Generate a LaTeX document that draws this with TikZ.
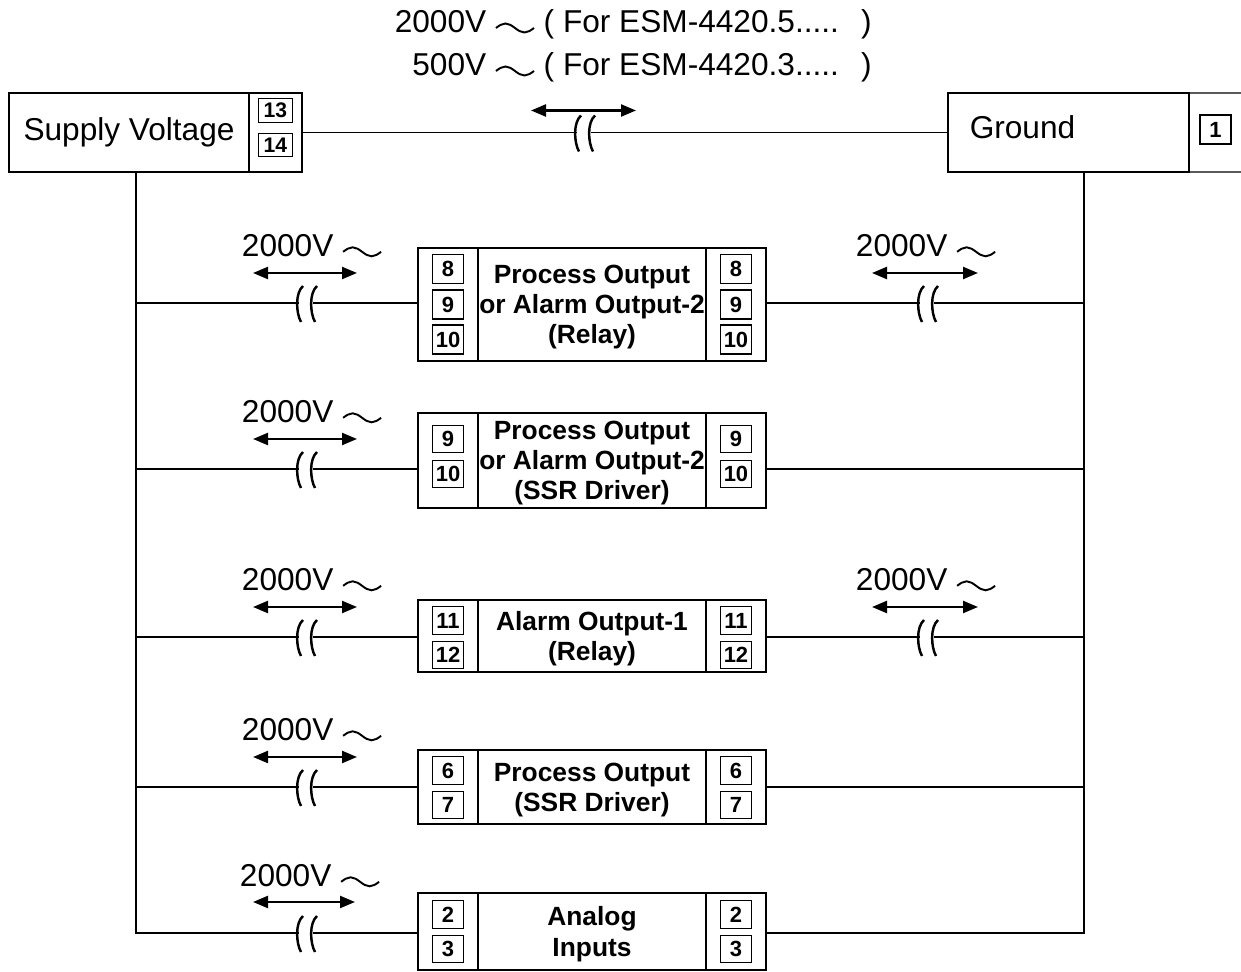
\documentclass[tikz,border=0pt]{standalone}
\usepackage{fontspec}
\setmainfont{Liberation Sans}
\usepackage{tikz}
\usetikzlibrary{arrows.meta, positioning}
\newcommand{\acwave}{\tikz[baseline=-0.1cm]\draw[line width=1.1pt] (0,0) sin (0.19cm,0.09cm) cos (0.38cm,0cm) sin (0.57cm,-0.09cm) cos (0.76cm,0cm);}
\tikzset{brk/.pic={
  \draw[line width=1.4pt] (-3,-17) .. controls (-11,-10) and (-10,10) .. (-5,19);
  \draw[line width=1.4pt] (11,-17) .. controls (3,-10) and (4,10) .. (9,19);
}}

\begin{document}
\begin{tikzpicture}[x=0.02cm, y=-0.02cm, line width=0.8pt,
  lbl/.style={font=\fontsize{18}{21}\selectfont},
  box/.style={draw, line width=0.8pt, inner sep=0pt, outer sep=0pt},
  blk/.style={box, minimum width=4.56cm, align=center, text depth=0pt, font=\bfseries\fontsize{15}{17.2}\selectfont},
  strip/.style={box, minimum width=1.2cm},
  term/.style={box, minimum width=0.62cm, minimum height=0.55cm, font=\bfseries\fontsize{12.5}{14}\selectfont},
  gap/.style={inner sep=0pt, outer sep=0pt, minimum width=0.28cm, minimum height=0pt},
  dbl/.style={{Triangle[length=0.3cm,width=0.24cm]}-{Triangle[length=0.3cm,width=0.24cm]}, line width=1.3pt}]
\useasboundingbox (0,0) rectangle (1241,972);
% top: test voltages
\node[lbl, anchor=base east, inner sep=0pt] (v5) at (872,33) {2000V \acwave{} ( For ESM-4420.5.....\hspace{0.7em})};
\node[lbl, anchor=base east, inner sep=0pt] (v3) at (872,76) {500V \acwave{} ( For ESM-4420.3.....\hspace{0.7em})};
% supply and ground
\node[box, lbl, minimum width=4.8cm, minimum height=1.58cm] (sv) at (129,132.5) {Supply Voltage};
\node[strip, minimum width=1.06cm, minimum height=1.58cm, right=0pt of sv] (svs) {};
\node[term, minimum width=0.68cm, minimum height=0.47cm, font=\bfseries\fontsize{12}{13}\selectfont] (t13) at ([yshift=0.44cm]svs) {13};
\node[term, minimum width=0.68cm, minimum height=0.47cm, font=\bfseries\fontsize{12}{13}\selectfont] (t14) at ([yshift=-0.25cm]svs) {14};
\node[box, minimum width=4.82cm, minimum height=1.58cm] (gnd) at (1068.5,132.5) {};
\node[lbl, anchor=base] (gndtxt) at (1022.5,139) {Ground};
\draw (gnd.north east) -- (1241,93) (gnd.south east) -- (1241,172);
\node[term, minimum height=0.58cm] (t1) at (1215.5,129.5) {1};
\coordinate (busl) at (136,172);
\coordinate (busr) at (1084,172);
\node[gap] (g0) at (584,132.5) {};
\draw (svs.east) -- (g0.west) (g0.east) -- (gnd.west);
\draw[dbl] ([shift={(-53,-22)}]g0.center) -- ([shift={(52,-22)}]g0.center);
% output and input blocks
\node[blk, minimum height=2.26cm] (b1) at (592,304.5) {Process Output\\or Alarm Output-2\\(Relay)};
\node[strip, minimum height=2.26cm, left=0pt of b1] (l1) {};
\node[strip, minimum height=2.26cm, right=0pt of b1] (r1) {};
\foreach \n/\dy in {8/0.71, 9/0, 10/-0.7} {
  \node[term, minimum height=0.58cm] (l1-\n) at ([yshift=\dy cm]l1) {\n};
  \node[term, minimum height=0.58cm] (r1-\n) at ([yshift=\dy cm]r1) {\n};
}
\node[blk, minimum height=1.9cm] (b2) at (592,460.5) {Process Output\\or Alarm Output-2\\(SSR Driver)};
\node[strip, minimum height=1.9cm, left=0pt of b2] (l2) {};
\node[strip, minimum height=1.9cm, right=0pt of b2] (r2) {};
\foreach \n/\dy in {9/0.43, 10/-0.27} {
  \node[term] (l2-\n) at ([yshift=\dy cm]l2) {\n};
  \node[term] (r2-\n) at ([yshift=\dy cm]r2) {\n};
}
\node[blk, minimum height=1.44cm] (b3) at (592,636) {Alarm Output-1\\(Relay)};
\node[strip, minimum height=1.44cm, left=0pt of b3] (l3) {};
\node[strip, minimum height=1.44cm, right=0pt of b3] (r3) {};
\foreach \n/\dy in {11/0.31, 12/-0.38} {
  \node[term] (l3-\n) at ([yshift=\dy cm]l3) {\n};
  \node[term] (r3-\n) at ([yshift=\dy cm]r3) {\n};
}
\node[blk, minimum height=1.48cm] (b4) at (592,787) {Process Output\\(SSR Driver)};
\node[strip, minimum height=1.48cm, left=0pt of b4] (l4) {};
\node[strip, minimum height=1.48cm, right=0pt of b4] (r4) {};
\foreach \n/\dy in {6/0.33, 7/-0.36} {
  \node[term] (l4-\n) at ([yshift=\dy cm]l4) {\n};
  \node[term] (r4-\n) at ([yshift=\dy cm]r4) {\n};
}
\node[blk, minimum height=1.54cm] (b5) at (592,931.5) {Analog\\Inputs};
\node[strip, minimum height=1.54cm, left=0pt of b5] (l5) {};
\node[strip, minimum height=1.54cm, right=0pt of b5] (r5) {};
\foreach \n/\dy in {2/0.34, 3/-0.35} {
  \node[term] (l5-\n) at ([yshift=\dy cm]l5) {\n};
  \node[term] (r5-\n) at ([yshift=\dy cm]r5) {\n};
}
% isolation gaps
\node[gap] (g1) at (306,303) {};
\node[gap] (g2) at (306,469) {};
\node[gap] (g3) at (306,637) {};
\node[gap] (g4) at (306,787) {};
\node[gap] (g5) at (306,933) {};
\node[gap] (h1) at (927,303) {};
\node[gap] (h3) at (927,637) {};
\foreach \g in {g0,g1,g2,g3,g4,g5,h1,h3} \pic at (\g) {brk};
% supply side
\draw (busl) -- (busl |- g5) -- (g5.west) (g5.east) -- (g5 -| l5.west);
\foreach \k in {1,2,3,4} {
  \draw (busl |- g\k) -- (g\k.west) (g\k.east) -- (g\k -| l\k.west);
  \draw[dbl] ([shift={(-53,-30)}]g\k.center) -- ([shift={(51,-30)}]g\k.center);
  \node[lbl] (v\k) at ([shift={(6,-57)}]g\k.center) {2000V \acwave};
}
\draw[dbl] ([shift={(-53,-31)}]g5.center) -- ([shift={(49,-31)}]g5.center);
\node[lbl] (v6) at ([shift={(4,-57)}]g5.center) {2000V \acwave};
% ground side
\draw (busr) -- (busr |- g5) -- (g5 -| r5.east);
\draw (r2.east |- g2) -- (busr |- g2);
\draw (r4.east |- g4) -- (busr |- g4);
\foreach \k in {1,3} {
  \draw (r\k.east |- h\k) -- (h\k.west) (h\k.east) -- (busr |- h\k);
  \draw[dbl] ([shift={(-55,-30)}]h\k.center) -- ([shift={(51,-30)}]h\k.center);
  \node[lbl] (w\k) at ([shift={(-1,-57)}]h\k.center) {2000V \acwave};
}
\end{tikzpicture}
\end{document}
